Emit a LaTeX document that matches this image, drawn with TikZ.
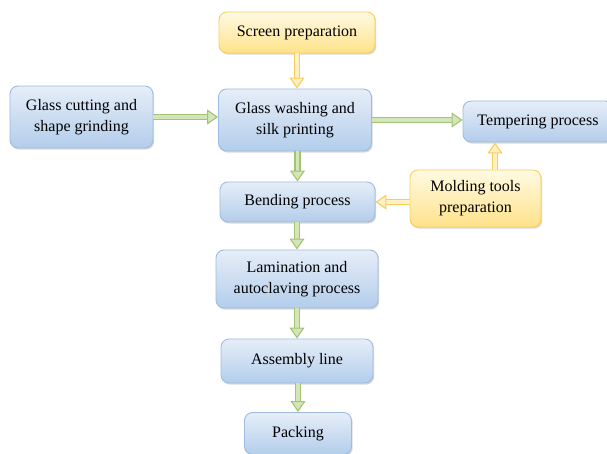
\documentclass[tikz,border=0pt]{standalone}
\usepackage{fontspec}
\setmainfont{Liberation Serif}
\usetikzlibrary{arrows.meta,shadows,calc}
\definecolor{bluetop}{HTML}{E6EEF8}
\definecolor{bluebot}{HTML}{B3CDEB}
\definecolor{blueline}{HTML}{9DBCE0}
\definecolor{yeltop}{HTML}{FFFAE3}
\definecolor{yelbot}{HTML}{FFE28A}
\definecolor{yelline}{HTML}{F7CF5C}
\definecolor{grnline}{HTML}{A3C472}
\definecolor{grnfill}{HTML}{D4E5BA}
\definecolor{yarline}{HTML}{F8CD5E}
\definecolor{yarfill}{HTML}{FFF1C4}
\tikzset{
  boxbase/.style={rectangle, rounded corners=8pt, line width=0.9pt, align=center,
    font=\fontsize{16}{21}\selectfont, inner sep=2pt,
    drop shadow={shadow xshift=1.2pt, shadow yshift=-1.6pt, opacity=0.25, fill=black!60}},
  bluebox/.style={boxbase, draw=blueline, top color=bluetop, bottom color=bluebot},
  yelbox/.style={boxbase, draw=yelline, top color=yeltop, bottom color=yelbot},
  garrow/.style={draw=grnline, double=grnfill, line width=1.4pt, double distance=3.4pt,
    -{Triangle[width=15pt,length=11pt,fill=grnfill,line width=1.1pt]}},
  yarrow/.style={draw=yarline, double=yarfill, line width=1.4pt, double distance=3.4pt,
    -{Triangle[width=15pt,length=11pt,fill=yarfill,line width=1.1pt]}}
}
\begin{document}
\begin{tikzpicture}[x=1pt,y=-1pt]
\useasboundingbox (0,0) rectangle (607,454);
\clip (0,0) rectangle (607,454);
\node[yelbox, minimum width=156pt, minimum height=41pt] (screen) at (297,32.5) {Screen preparation};
\node[bluebox, minimum width=143pt, minimum height=62pt] (cut) at (81.5,117) {Glass cutting and\\shape grinding};
\node[bluebox, minimum width=153pt, minimum height=62pt] (wash) at (295,120) {Glass washing and\\silk printing};
\node[bluebox, minimum width=150pt, minimum height=41pt] (temp) at (538,121.5) {Tempering process};
\node[bluebox, minimum width=155pt, minimum height=40pt] (bend) at (297.5,202) {Bending process};
\node[yelbox, minimum width=131pt, minimum height=57pt] (mold) at (475.5,198.5) {Molding tools\\preparation};
\node[bluebox, minimum width=162pt, minimum height=58pt] (lam) at (297,279) {Lamination and\\autoclaving process};
\node[bluebox, minimum width=152pt, minimum height=44pt] (asm) at (297,361) {Assembly line};
\node[bluebox, minimum width=107pt, minimum height=42pt] (pack) at (298,433.5) {Packing};

\draw[yarrow] (screen.south) -- (screen.south |- wash.north);
\draw[garrow] (cut.east) -- (cut.east -| wash.west);
\draw[garrow] (wash.east) -- (wash.east -| temp.west);
\draw[garrow] (wash.south -| bend.north) -- (bend.north);
\draw[yarrow] (mold.west |- bend.east) -- (bend.east);
\draw[yarrow] ([xshift=19.5pt]mold.north) -- ([xshift=19.5pt]mold.north |- temp.south);
\draw[garrow] (bend.south -| lam.north) -- (lam.north);
\draw[garrow] (lam.south -| asm.north) -- (asm.north);
\draw[garrow] (asm.south -| pack.north) -- (pack.north);
\end{tikzpicture}
\end{document}
